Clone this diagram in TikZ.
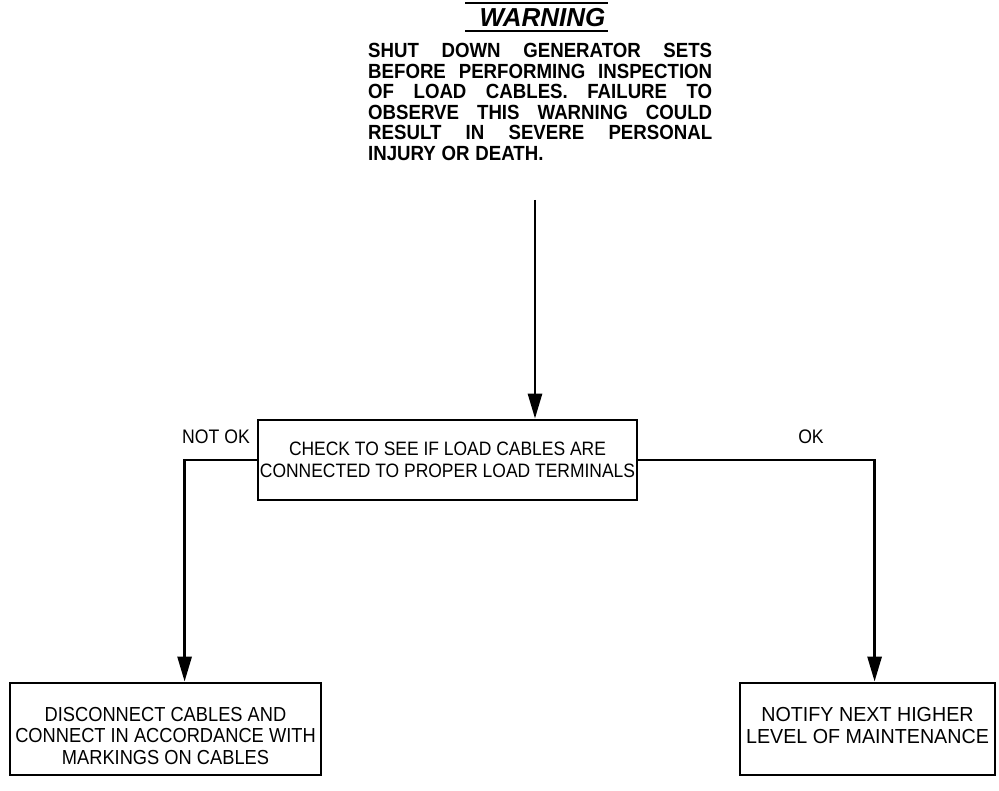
\documentclass[tikz,border=0pt]{standalone}
\usepackage{fontspec}
\setmainfont{Liberation Sans}
\newfontfamily\condfont[FakeStretch=0.9]{Liberation Sans}
\newfontfamily\widecond[FakeStretch=0.97]{Liberation Sans}
\newfontfamily\condbold[FakeStretch=0.91]{Liberation Sans Bold}
\usetikzlibrary{arrows.meta}
\tikzset{
  box/.style={draw, line width=2.8pt, inner sep=0pt, align=center},
  conn/.style={line width=2.8pt, -{Triangle[length=25pt,width=14pt]}},
  lbl/.style={inner sep=0pt, font=\condfont\fontsize{19.6}{22}\selectfont},
  rule/.style={line width=2.6pt}
}
\begin{document}
\begin{tikzpicture}[x=1pt,y=-1pt]
\useasboundingbox (0,0) rectangle (999,791);
% title
\node[inner sep=0pt, font=\bfseries\itshape\fontsize{26}{28}\selectfont] (title) at (542.5,18) {WARNING};
\coordinate (ulL) at (465,3);
\coordinate (ulR) at (608,3);
\draw[rule] (ulL) -- (ulR);
\draw[rule] ([yshift=-28pt]ulL) -- ([yshift=-28pt]ulR);
% warning body
\node[anchor=north west, inner sep=0pt, font=\condbold\fontsize{20.5}{20.5}\selectfont] (body) at (368,43)
 {\parbox{344pt}{\hbadness=10000\spaceskip=0.28em plus 2em minus 0.1em\rightskip=0pt
 SHUT DOWN GENERATOR SETS\linebreak
 BEFORE PERFORMING INSPECTION\linebreak
 OF LOAD CABLES. FAILURE TO\linebreak
 OBSERVE THIS WARNING COULD\linebreak
 RESULT IN SEVERE PERSONAL\linebreak
 INJURY OR DEATH.}};
\coordinate (a0) at (535,200);
% main box
\node[box, font=\condfont\fontsize{19.4}{22}\selectfont, minimum width=379pt, minimum height=80pt] (check) at (447.5,460)
 {CHECK TO SEE IF LOAD CABLES ARE\\CONNECTED TO PROPER LOAD TERMINALS};
\draw[conn] (a0) -- (a0 |- check.north);
% result boxes
\node[box, font=\condfont\fontsize{20.3}{21.5}\selectfont, minimum width=311pt, minimum height=92pt] (left) at (165.5,729)
 {\rule{0pt}{28pt}DISCONNECT CABLES AND\\CONNECT IN ACCORDANCE WITH\\MARKINGS ON CABLES};
\node[box, font=\widecond\fontsize{20.3}{22}\selectfont, minimum width=255pt, minimum height=92pt, text depth=8pt] (right) at (867.5,729)
 {NOTIFY NEXT HIGHER\\LEVEL OF MAINTENANCE};
% labels
\node[lbl] (notok) at (216,437) {NOT OK};
\node[lbl] (ok) at (811,437) {OK};
% connectors
\draw[conn] (check.west) -| ([xshift=176pt]left.north west);
\draw[conn] (check.east) -| ([xshift=136pt]right.north west);
\end{tikzpicture}
\end{document}
